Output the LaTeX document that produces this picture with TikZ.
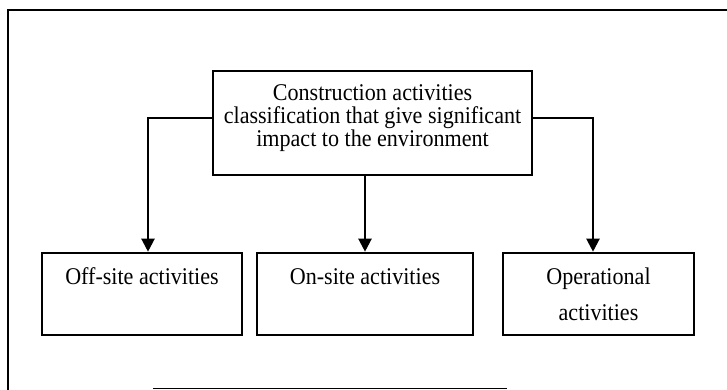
\documentclass[tikz,border=0pt]{standalone}
\usepackage{fontspec}
\setmainfont{Liberation Serif}[FakeStretch=0.92]
\usetikzlibrary{arrows.meta}

\tikzset{
  box/.style={draw, line width=1.3pt, inner sep=0pt, align=center,
    font=\fontsize{12}{11.5}\selectfont},
  lowbox/.style={box, minimum height=41pt, text height=15.5pt, text depth=25.5pt},
  link/.style={line width=1.1pt, -{Triangle[width=6.5pt,length=6.5pt]}}
}

\begin{document}
\begin{tikzpicture}[x=0.5pt,y=-0.5pt]
\useasboundingbox (0,0) rectangle (727,390);

% draw outer frame
\draw[line width=1.4pt] (8,390) -- (8,10) -- (727,10);

% draw nodes
\node[box, minimum width=159.5pt, minimum height=52pt, text depth=7pt] (top) at (372.5,123)
  {Construction activities\\classification that give significant\\impact to the environment};
\node[lowbox, minimum width=100pt] (offsite) at (142,294) {Off-site activities};
\node[lowbox, minimum width=108pt] (onsite) at (365,294) {On-site activities};
\node[lowbox, minimum width=95.5pt, text height=33.5pt, text depth=7.5pt] (oper) at (598.5,294)
  {Operational\\[6.5pt]activities};

% draw arrows
\draw[link] ([yshift=2.5pt]top.west) -| ([xshift=3pt]offsite.north);
\draw[link] (top.south -| onsite.north) -- (onsite.north);
\draw[link] ([yshift=2.5pt]top.east) -| ([xshift=-2.75pt]oper.north);

% draw rule at the foot
\draw[line width=0.7pt] (153,388.5) -- (507,388.5);

\end{tikzpicture}
\end{document}
